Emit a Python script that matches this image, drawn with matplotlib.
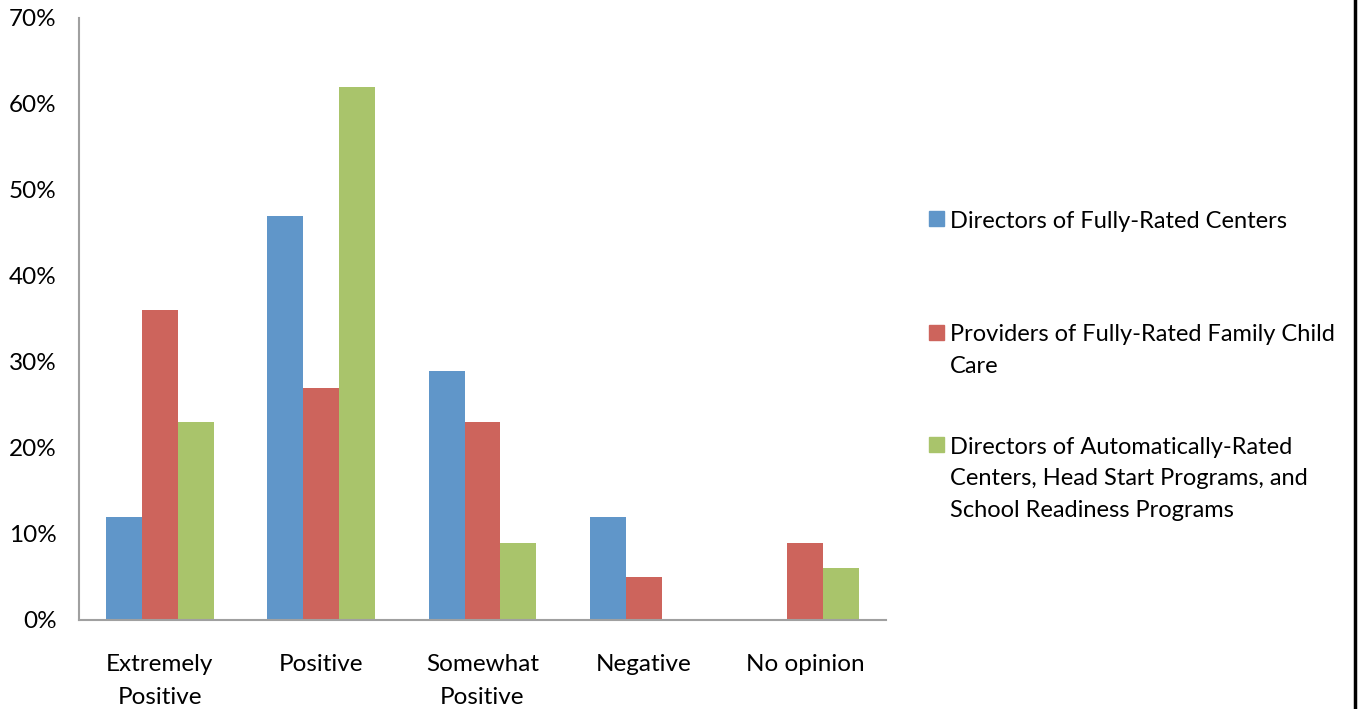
import matplotlib
matplotlib.use("Agg")
import matplotlib.pyplot as plt
from matplotlib.patches import Rectangle
from matplotlib.lines import Line2D
import numpy as np

plt.rcParams['font.family'] = ['Lato', 'DejaVu Sans']

categories = ["Extremely\nPositive", "Positive", "Somewhat\nPositive", "Negative", "No opinion"]
series_names = ["Directors of Fully-Rated Centers",
                "Providers of Fully-Rated Family Child\nCare",
                "Directors of Automatically-Rated\nCenters, Head Start Programs, and\nSchool Readiness Programs"]
directors_full = [12, 47, 29, 12, 0]
providers_family = [36, 27, 23, 5, 9]
directors_auto = [23, 62, 9, 0, 6]
yticks = [0, 10, 20, 30, 40, 50, 60, 70]
colors = ["#6096c9", "#cd645c", "#a9c46b"]

W, H = 1359, 709
fig = plt.figure(figsize=(W/100, H/100), dpi=100)
ax = fig.add_axes([79/W, 1-620/H, (886-79)/W, (620-18)/H])

x = np.arange(len(categories))
bw = 0.223
for i, vals in enumerate([directors_full, providers_family, directors_auto]):
    ax.bar(x + (i-1)*bw, vals, width=bw, color=colors[i], edgecolor='none')

ax.set_xlim(-0.5, len(categories)-0.5)
ax.set_ylim(0, 70)
ax.set_yticks(yticks)
ax.set_yticklabels([f"{v}%" for v in yticks], fontsize=17.5)
ax.set_xticks(x)
ax.set_xticklabels(categories, fontsize=17.5, linespacing=1.71, va='top')
ax.tick_params(axis='both', length=0)
ax.tick_params(axis='x', pad=24.5)
ax.tick_params(axis='y', pad=16)
for s in ['top', 'right']:
    ax.spines[s].set_visible(False)
for s in ['left', 'bottom']:
    ax.spines[s].set_color('#a0a0a0')
    ax.spines[s].set_linewidth(1.5)

# legend (manual); baseline given for the last line of each entry
line_px = 32
ybase_first = [228, 341, 453]
ysq = [218.5, 332, 444]
for i, name in enumerate(series_names):
    nlines = name.count("\n") + 1
    fig.add_artist(Rectangle((929/W, 1-(ysq[i]+7.5)/H), 15/W, 15/H, color=colors[i],
                             transform=fig.transFigure))
    yb = ybase_first[i] + (nlines-1)*line_px
    fig.text(950/W, 1-yb/H, name, fontsize=17, va='baseline', ha='left', linespacing=1.62)

fig.add_artist(Line2D([1355/W, 1355/W], [0, 1], color='black', lw=2.5, transform=fig.transFigure))

fig.savefig("out.png", dpi=100, facecolor='white')
